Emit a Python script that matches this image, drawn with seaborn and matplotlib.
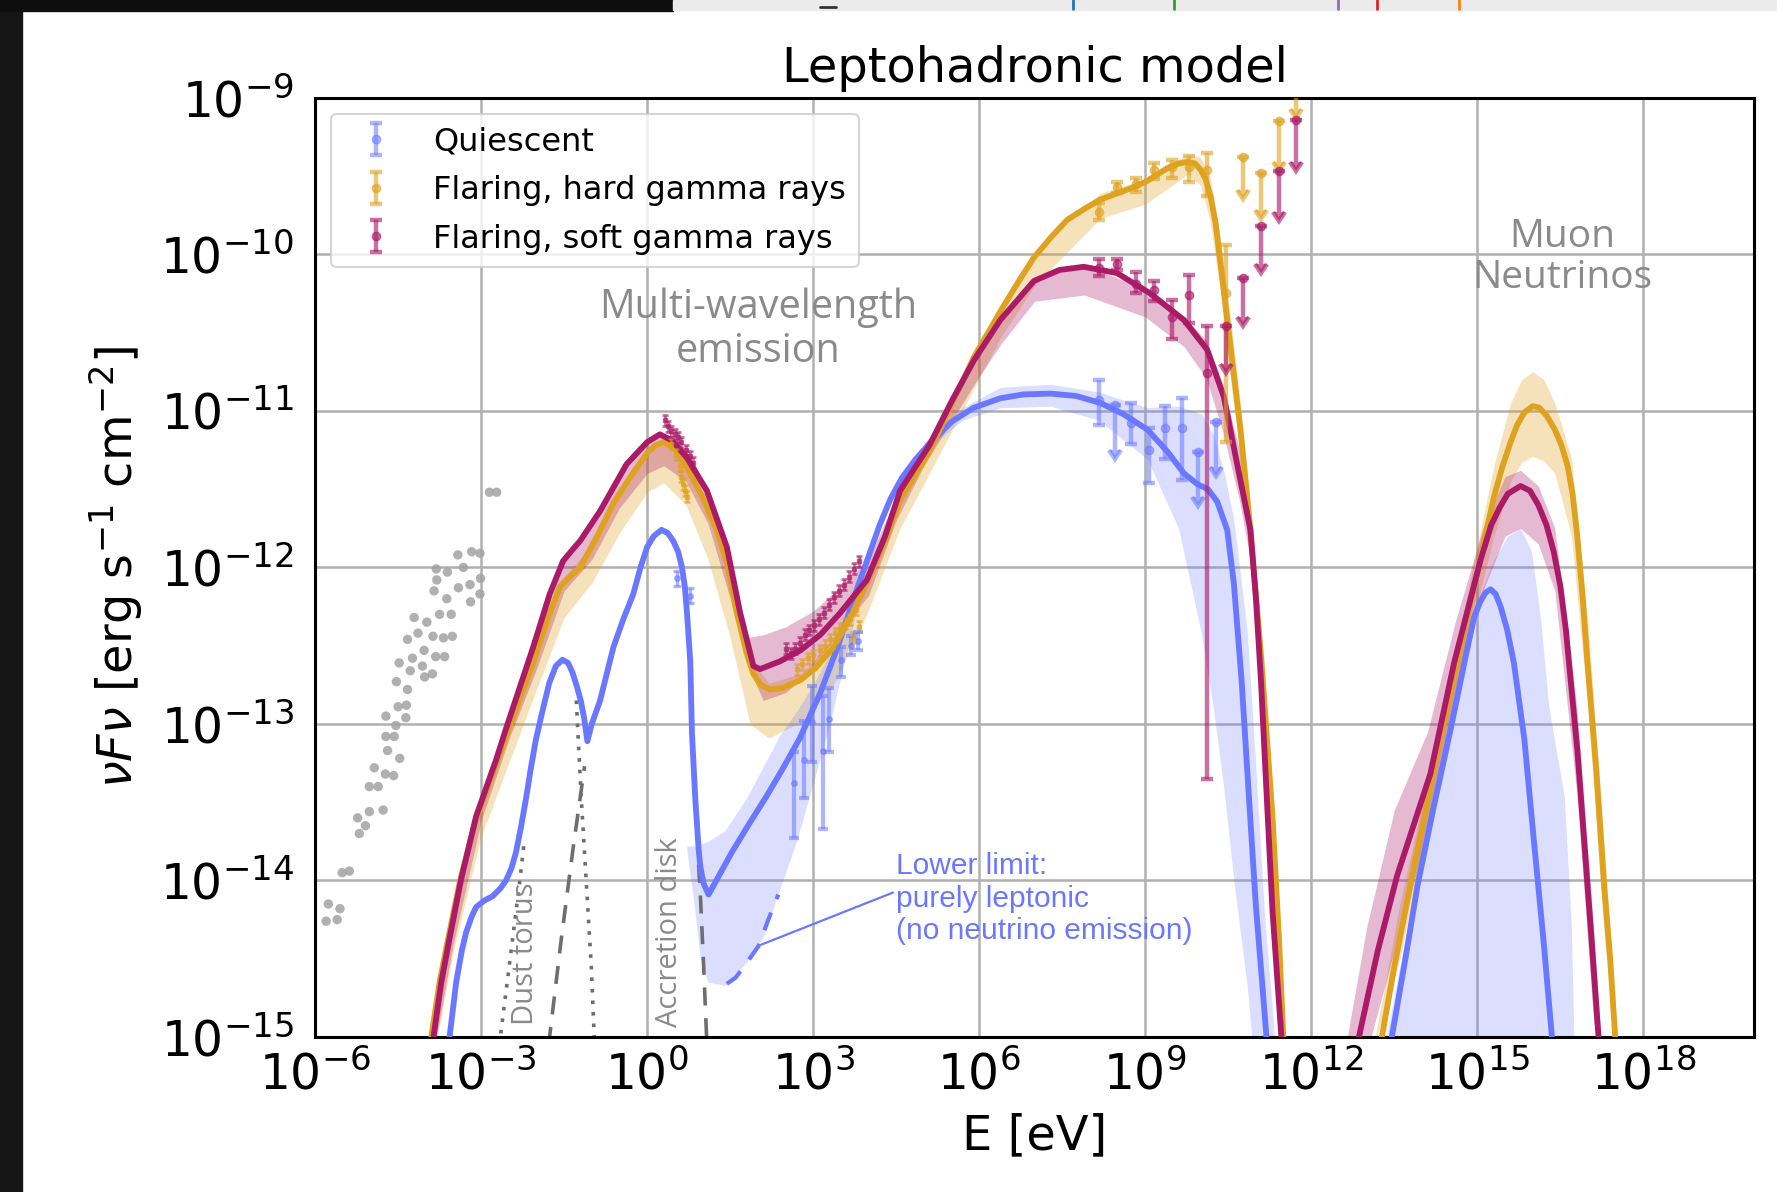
import numpy as np
import matplotlib
matplotlib.use("Agg")
import matplotlib.pyplot as plt
import seaborn as sns
from matplotlib.ticker import FixedLocator, FuncFormatter, LogLocator, NullLocator
from matplotlib.patches import Rectangle
from matplotlib.lines import Line2D

# ---------------------------------------------------------------- colours
C_Q = "#6a78ff"      # quiescent
C_H = "#dfa21f"      # flaring, hard gamma rays
C_S = "#ab1a67"      # flaring, soft gamma rays
C_TXT = "#8a8a8a"
C_COMP = "#6e6e6e"

# ---------------------------------------------------------------- model curves (log10 E[eV], log10 nuFnu)
q_logE = [-3.57, -3.45, -3.35, -3.27, -3.17, -3.09, -2.95, -2.79, -2.65, -2.55, -2.45, -2.37,
          -2.28, -2.19, -2.10, -2.01, -1.90, -1.77, -1.65, -1.53, -1.43, -1.35, -1.27, -1.20,
          -1.14, -1.08, -1.00, -0.92, -0.85, -0.73, -0.61, -0.43, -0.25, -0.12, 0.00, 0.12,
          0.26, 0.37, 0.47, 0.56, 0.63, 0.68, 0.72, 0.76, 0.78, 0.81, 0.87, 0.93, 0.96, 1.02,
          1.11, 1.25, 1.53, 1.84, 2.16, 2.46, 2.76, 3.13, 3.44, 3.74, 3.98, 4.20, 4.40, 4.60,
          4.85, 5.10, 5.50, 5.90, 6.38, 6.80, 7.29, 7.75, 8.19, 8.60, 9.04, 9.40, 9.70, 9.95, 10.13,
          10.30, 10.48, 10.60, 10.74, 10.87, 11.00, 11.10, 11.19, 11.22]
q_logF = [-15.00, -14.65, -14.45, -14.33, -14.23, -14.17, -14.13, -14.10, -14.05, -14.00, -13.92, -13.82,
          -13.66, -13.48, -13.28, -13.10, -12.93, -12.74, -12.63, -12.59, -12.61, -12.67, -12.76, -12.85,
          -12.96, -13.11, -13.00, -12.92, -12.85, -12.68, -12.51, -12.33, -12.17, -12.00, -11.87, -11.80,
          -11.76, -11.78, -11.83, -11.90, -12.00, -12.12, -12.29, -12.50, -12.61, -13.06, -13.48, -13.80, -13.91, -14.02,
          -14.09, -14.00, -13.82, -13.64, -13.46, -13.28, -13.09, -12.80, -12.51, -12.19, -11.95, -11.73, -11.56, -11.43,
          -11.31, -11.21, -11.07, -10.98, -10.92, -10.895, -10.89, -10.905, -10.95, -11.02, -11.12, -11.26, -11.40, -11.47, -11.50,
          -11.58, -11.76, -12.10, -12.72, -13.45, -14.17, -14.60, -15.00, -15.20]

h_logE = [-3.90, -3.75, -3.60, -3.38, -3.10, -2.75, -2.50, -2.07, -1.77, -1.57, -1.40, -1.21, -0.90,
          -0.61, -0.30, 0.00, 0.15, 0.30, 0.50, 0.72, 1.00, 1.26, 1.45, 1.62, 1.80, 1.92, 2.05, 2.22,
          2.45, 2.77, 3.05, 3.37, 3.70, 3.97, 4.30, 4.57, 5.10, 5.50, 5.90, 6.39, 6.70, 6.99, 7.30, 7.59,
          7.90, 8.19, 8.50, 8.80, 9.04, 9.40, 9.60, 9.76, 9.90, 10.00, 10.09, 10.18, 10.27, 10.36, 10.54,
          10.72, 10.90, 11.10, 11.30, 11.42, 11.50]
h_logF = [-15.00, -14.65, -14.38, -14.00, -13.62, -13.28, -13.03, -12.62, -12.30, -12.12, -12.06, -12.00, -11.80,
          -11.59, -11.42, -11.27, -11.22, -11.20, -11.24, -11.36, -11.55, -11.76, -11.98, -12.29, -12.55, -12.68, -12.75, -12.78,
          -12.77, -12.72, -12.64, -12.51, -12.30, -12.10, -11.83, -11.57, -11.26, -10.96, -10.66, -10.36, -10.18, -10.02, -9.89, -9.78,
          -9.71, -9.65, -9.61, -9.57, -9.53, -9.45, -9.42, -9.41, -9.42, -9.46, -9.52, -9.63, -9.80, -10.06, -10.59,
          -11.12, -11.76, -12.60, -13.60, -14.40, -15.05]

s_logE = [-3.86, -3.72, -3.57, -3.36, -3.09, -2.73, -2.54, -2.06, -1.76, -1.52, -1.38, -1.21, -0.85,
          -0.37, 0.00, 0.23, 0.45, 0.72, 1.08, 1.44, 1.68, 1.92, 2.04, 2.40, 2.77, 3.13, 3.49, 3.97,
          4.30, 4.57, 5.10, 5.50, 5.90, 6.38, 6.99, 7.45, 7.89, 8.49, 9.09, 9.70, 10.12, 10.42, 10.66,
          10.90, 11.00, 11.09, 11.20, 11.30, 11.40, 11.47]
s_logF = [-15.00, -14.65, -14.37, -13.99, -13.59, -13.23, -13.02, -12.51, -12.17, -11.96, -11.90, -11.83, -11.64,
          -11.34, -11.20, -11.15, -11.19, -11.30, -11.51, -11.87, -12.29, -12.63, -12.65, -12.60, -12.53, -12.43, -12.29, -12.08,
          -11.80, -11.51, -11.22, -10.94, -10.68, -10.42, -10.17, -10.10, -10.08, -10.12, -10.25, -10.42, -10.61, -10.91, -11.34,
          -11.76, -12.20, -12.72, -13.50, -14.20, -14.70, -15.05]

# neutrino bumps
qn_logE = [13.43, 13.70, 13.92, 14.20, 14.52, 14.80, 14.94, 15.05, 15.15, 15.24, 15.33, 15.42, 15.54, 15.66,
           15.85, 16.02, 16.20, 16.36]
qn_logF = [-15.05, -14.50, -14.03, -13.55, -13.03, -12.55, -12.32, -12.22, -12.16, -12.14, -12.17, -12.25, -12.40, -12.61,
           -13.10, -13.74, -14.40, -15.05]
hn_logE = [13.25, 13.50, 13.79, 14.28, 14.82, 15.30, 15.45, 15.60, 15.72, 15.85, 16.00, 16.12, 16.25, 16.40,
           16.52, 16.63, 16.72, 16.80, 16.90, 16.99, 17.15, 17.29, 17.40, 17.50]
hn_logF = [-15.05, -14.55, -14.03, -13.18, -12.32, -11.55, -11.36, -11.20, -11.09, -11.01, -10.97, -10.98, -11.03, -11.12,
           -11.22, -11.35, -11.53, -11.78, -12.18, -12.61, -13.30, -14.03, -14.50, -15.05]
sn_logE = [12.83, 13.20, 13.55, 14.15, 14.58, 15.06, 15.25, 15.40, 15.55, 15.78, 15.95, 16.10, 16.25, 16.38,
           16.50, 16.60, 16.81, 17.05, 17.20]
sn_logF = [-15.05, -14.45, -13.97, -13.32, -12.61, -11.95, -11.73, -11.62, -11.53, -11.48, -11.51, -11.60, -11.73, -11.90,
           -12.12, -12.40, -13.18, -14.31, -15.05]

# ---------------------------------------------------------------- uncertainty bands
s_band_logE = [-3.86, -3.5, -3.0, -2.5, -2.0, -1.5, -1.0, -0.5, 0.0, 0.3, 0.7, 1.1, 1.5, 1.8, 2.1, 2.5,
               3.0, 3.5, 4.0, 4.5, 5.0, 6.0, 6.4, 7.0, 7.9, 9.0, 9.7, 10.1, 10.4, 10.7, 10.9, 11.1, 11.3, 11.5]
s_band_hi = [-14.90, -14.25, -13.50, -12.95, -12.45, -11.95, -11.71, -11.41, -11.20, -11.15, -11.29, -11.52, -11.97, -12.45,
             -12.43, -12.38, -12.28, -12.12, -11.95, -11.55, -11.25, -10.60, -10.40, -10.15, -10.07, -10.22, -10.40, -10.55,
             -10.83, -11.25, -11.67, -12.50, -13.90, -15.10]
s_band_lo = [-15.10, -14.40, -13.62, -13.10, -12.65, -12.15, -11.95, -11.62, -11.40, -11.35, -11.45, -11.72, -12.20, -12.62,
             -12.85, -12.80, -12.65, -12.40, -12.18, -11.70, -11.35, -10.78, -10.57, -10.30, -10.26, -10.40, -10.59, -10.79,
             -11.13, -11.57, -11.95, -12.90, -14.30, -15.30]

h_band_logE = [-3.9, -3.5, -3.0, -2.5, -2.0, -1.5, -1.0, -0.5, 0.0, 0.3, 0.7, 1.1, 1.5, 1.86, 2.2, 2.77, 3.0, 3.37,
               3.97, 4.57, 5.1, 6.39, 7.0, 8.19, 9.0, 9.76, 10.0, 10.18, 10.36, 10.54, 10.72, 10.9, 11.1, 11.3, 11.5]
h_band_hi = [-14.95, -14.20, -13.47, -13.00, -12.52, -12.06, -11.86, -11.51, -11.26, -11.19, -11.33, -11.60, -12.08, -12.58,
             -12.74, -12.68, -12.60, -12.45, -12.05, -11.52, -11.22, -10.32, -9.98, -9.61, -9.52, -9.36, -9.38, -9.52, -9.90,
             -10.40, -10.95, -11.60, -12.45, -13.45, -14.90]
h_band_lo = [-15.20, -14.45, -13.72, -13.25, -12.78, -12.32, -12.10, -11.78, -11.52, -11.46, -11.60, -11.95, -12.45, -13.00,
             -13.09, -12.99, -12.89, -12.75, -12.30, -11.75, -11.40, -10.53, -10.20, -9.77, -9.68, -9.49, -9.56, -9.80, -10.25,
             -10.80, -11.30, -11.95, -12.80, -13.80, -15.20]

q_gband_logE = [5.0, 5.7, 6.38, 7.29, 8.16, 9.04, 9.6, 10.02, 10.23, 10.43, 10.6, 10.84, 10.95, 11.15, 11.36]
q_gband_hi = [-11.20, -10.98, -10.85, -10.83, -10.88, -10.98, -10.97, -11.02, -11.15, -11.40, -11.70, -12.40, -13.00, -14.20, -15.10]
q_gband_lo = [-11.26, -11.06, -10.98, -10.97, -11.06, -11.31, -11.75, -12.43, -12.90, -13.44, -14.00, -14.67, -15.10, -15.10, -15.10]

q_dband_logE = [0.72, 0.84, 0.96, 1.10, 1.41, 1.80, 2.10, 2.40, 2.70, 3.00, 3.30, 3.60, 3.90]
q_dband_hi = [-13.78, -13.78, -13.77, -13.75, -13.68, -13.47, -13.27, -13.07, -12.92, -12.75, -12.55, -12.30, -12.02]
q_dband_lo = [-13.82, -14.12, -14.50, -14.65, -14.67, -14.52, -14.36, -14.05, -13.75, -13.38, -13.00, -12.55, -12.10]

qn_band_logE = [13.30, 13.73, 14.22, 14.80, 15.30, 15.55, 15.78, 15.98, 16.14, 16.29, 16.57, 16.70, 16.75]
qn_band_hi = [-15.10, -14.31, -13.18, -12.40, -11.95, -11.80, -11.75, -11.90, -12.32, -12.89, -13.46, -14.30, -15.10]
hn_band_logE = [13.1, 13.6, 14.2, 14.8, 15.3, 15.6, 15.8, 16.0, 16.2, 16.4, 16.7, 17.0, 17.3, 17.55]
hn_band_hi = [-15.10, -14.15, -13.20, -12.20, -11.35, -10.95, -10.80, -10.75, -10.80, -10.95, -11.30, -12.35, -13.80, -15.10]
hn_band_lo = [-15.10, -14.50, -13.50, -12.50, -11.80, -11.45, -11.33, -11.29, -11.32, -11.40, -11.80, -12.90, -14.40, -15.10]
sn_band_logE = [12.6, 13.0, 13.5, 14.1, 14.6, 15.1, 15.5, 15.78, 16.1, 16.4, 16.8, 17.1, 17.25]
sn_band_hi = [-15.10, -14.30, -13.55, -13.05, -12.35, -11.75, -11.42, -11.38, -11.48, -11.75, -12.90, -14.30, -15.10]
sn_band_lo = [-15.10, -15.10, -14.45, -13.70, -12.85, -12.15, -11.80, -11.75, -11.85, -12.15, -13.45, -14.90, -15.10]

# lower limit (purely leptonic)
lep_logE = [1.44, 1.60, 1.77, 2.01, 2.19, 2.37]
lep_logF = [-14.66, -14.62, -14.54, -14.42, -14.25, -14.09]

# thermal components
torus_rise_logE = [-2.67, -2.49, -2.31, -2.22]
torus_rise_logF = [-15.05, -14.54, -14.03, -13.75]
torus_fall_logE = [-1.28, -1.19, -1.10, -1.01, -0.95]
torus_fall_logF = [-12.85, -13.48, -14.01, -14.54, -15.05]
disk_rise_logE = [-1.78, -1.55, -1.34, -1.13]
disk_rise_logF = [-15.05, -14.37, -13.80, -13.27]
disk_fall_logE = [0.93, 0.96, 1.02, 1.08]
disk_fall_logF = [-13.90, -14.08, -14.54, -15.05]

# ---------------------------------------------------------------- archival data (grey)
arch_logE = [-2.85, -2.72, -3.42, -3.17, -3.02, -3.81, -3.61, -3.32, -3.80, -3.01, -3.85, -3.41, -3.20, -3.02,
             -3.62, -3.19, -4.21, -3.98, -3.75, -3.54, -4.33, -4.14, -3.87, -3.68, -3.52, -4.03, -4.24, -3.82,
             -3.66, -4.48, -4.28, -4.06, -4.02, -3.88, -4.53, -4.33, -4.50, -4.35, -4.72, -4.36, -4.54, -4.72,
             -4.57, -4.69, -4.47, -4.93, -4.73, -4.58, -5.02, -4.86, -5.23, -5.09, -5.02, -4.77, -5.20, -5.51,
             -5.38, -5.76, -5.55, -5.80, -5.60]
arch_logF = [-11.52, -11.52, -11.92, -11.90, -11.91, -12.01, -12.03, -12.00, -12.08, -12.07, -12.15, -12.13, -12.11, -12.17,
             -12.20, -12.22, -12.32, -12.35, -12.30, -12.30, -12.46, -12.42, -12.44, -12.45, -12.44, -12.53, -12.58, -12.57,
             -12.57, -12.61, -12.66, -12.63, -12.70, -12.68, -12.73, -12.78, -12.89, -12.88, -12.95, -12.96, -13.01, -13.08,
             -13.08, -13.17, -13.22, -13.28, -13.32, -13.33, -13.40, -13.40, -13.60, -13.65, -13.56, -13.55, -13.70, -13.95,
             -13.94, -14.15, -14.18, -14.26, -14.25]

# ---------------------------------------------------------------- measured fluxes
# quiescent
q_opt_logE = [0.535, 0.775]
q_opt_logF = [-12.07, -12.18]
q_opt_lo = [-12.12, -12.23]
q_opt_hi = [-12.02, -12.13]
q_x_logE = [2.65, 2.83, 2.98, 3.18, 3.28, 3.50, 3.68, 3.81]
q_x_logF = [-13.38, -13.23, -12.99, -13.17, -12.97, -12.59, -12.50, -12.47]
q_x_lo = [-13.73, -13.47, -13.24, -13.67, -13.18, -12.70, -12.56, -12.53]
q_x_hi = [-13.18, -12.98, -12.76, -12.82, -12.77, -12.51, -12.44, -12.41]
q_g_logE = [8.16, 8.75, 9.07, 9.35, 9.66]
q_g_logF = [-10.93, -11.08, -11.25, -11.11, -11.11]
q_g_lo = [-11.09, -11.21, -11.46, -11.31, -11.44]
q_g_hi = [-10.80, -10.95, -11.11, -10.97, -10.92]
q_ul_logE = [8.46, 9.96, 10.27]
q_ul_top = [-10.96, -11.26, -11.07]
q_ul_tip = [-11.25, -11.55, -11.36]

# flaring, hard
h_opt_logE = [0.44, 0.53, 0.59, 0.62, 0.65, 0.68, 0.72]
h_opt_logF = [-11.21, -11.28, -11.35, -11.42, -11.47, -11.51, -11.55]
h_x_logE = [2.70, 2.80, 2.90, 3.00, 3.12, 3.22, 3.30, 3.40, 3.48, 3.57, 3.66, 3.72, 3.78, 3.82]
h_x_logF = [-12.65, -12.62, -12.58, -12.56, -12.53, -12.50, -12.46, -12.42, -12.39, -12.36, -12.33, -12.45, -12.27, -12.38]
h_g_logE = [8.16, 8.49, 8.83, 9.15, 9.48, 9.79, 10.12, 10.45]
h_g_logF = [-9.73, -9.57, -9.55, -9.46, -9.44, -9.44, -9.46, -10.25]
h_g_lo = [-9.78, -9.61, -9.60, -9.52, -9.51, -9.54, -9.63, -11.20]
h_g_hi = [-9.67, -9.54, -9.51, -9.42, -9.40, -9.37, -9.35, -9.94]
h_ul_logE = [10.77, 11.10, 11.42, 11.73]
h_ul_top = [-9.38, -9.48, -9.15, -8.85]
h_ul_tip = [-9.59, -9.72, -9.41, -9.07]

# flaring, soft
s_opt_logE = [0.32, 0.38, 0.44, 0.50, 0.56, 0.62, 0.71, 0.77, 0.83]
s_opt_logF = [-11.06, -11.10, -11.13, -11.15, -11.17, -11.20, -11.25, -11.29, -11.33]
s_x_logE = [2.50, 2.60, 2.68, 2.76, 2.85, 2.93, 3.02, 3.10, 3.19, 3.28, 3.37, 3.46, 3.55, 3.64, 3.73, 3.82]
s_x_logF = [-12.52, -12.55, -12.52, -12.48, -12.43, -12.40, -12.37, -12.33, -12.29, -12.24, -12.19, -12.15, -12.11,
            -12.06, -12.01, -11.96]
s_g_logE = [8.16, 8.49, 8.83, 9.15, 9.48, 9.79, 10.12]
s_g_logF = [-10.09, -10.06, -10.19, -10.23, -10.40, -10.26, -10.76]
s_g_lo = [-10.14, -10.10, -10.25, -10.30, -10.54, -10.44, -13.35]
s_g_hi = [-10.03, -10.03, -10.11, -10.17, -10.29, -10.13, -10.46]
s_ul_logE = [10.45, 10.77, 11.10, 11.42, 11.73]
s_ul_top = [-10.46, -10.15, -9.82, -9.47, -9.14]
s_ul_tip = [-10.70, -10.40, -10.06, -9.73, -9.41]

legend_labels = ["Quiescent", "Flaring, hard gamma rays", "Flaring, soft gamma rays"]
x_tick_exps = list(range(-6, 19, 3))
y_tick_exps = list(range(-15, -8))

# ---------------------------------------------------------------- style
sns.set_style("white")
plt.rcParams["font.family"] = ["DejaVu Sans"]
plt.rcParams["mathtext.fontset"] = "dejavusans"
plt.rcParams["text.color"] = "black"
plt.rcParams["axes.labelcolor"] = "black"
plt.rcParams["xtick.color"] = "black"
plt.rcParams["ytick.color"] = "black"

fig = plt.figure(figsize=(17.77, 11.92), dpi=100)
ax = fig.add_axes([0.1773, 0.130, 0.8098, 0.788])
ax.set_xscale("log")
ax.set_yscale("log")
ax.set_xlim(1e-6, 1e20)
ax.set_ylim(1e-15, 1e-9)


def p(v):
    return 10.0 ** np.asarray(v, dtype=float)


def band(logE, lo, hi, color, alpha):
    ax.fill_between(p(logE), p(lo), p(hi), color=color, alpha=alpha, lw=0, zorder=1.5)


def curve(logE, logF, color, lw=4.2, z=3, **kw):
    sns.lineplot(x=p(logE), y=p(logF), ax=ax, color=color, lw=lw, sort=False,
                 estimator=None, legend=False, zorder=z, **kw)


# bands
band(h_band_logE, h_band_lo, h_band_hi, C_H, 0.30)
band(s_band_logE, s_band_lo, s_band_hi, C_S, 0.30)
band(q_gband_logE, q_gband_lo, q_gband_hi, C_Q, 0.24)
band(q_dband_logE, q_dband_lo, q_dband_hi, C_Q, 0.24)
band(qn_band_logE, [-15.1] * len(qn_band_logE), qn_band_hi, C_Q, 0.24)
band(hn_band_logE, hn_band_lo, hn_band_hi, C_H, 0.30)
band(sn_band_logE, sn_band_lo, sn_band_hi, C_S, 0.30)

# thermal components
curve(torus_rise_logE, torus_rise_logF, C_COMP, lw=2.6, z=2, linestyle=(0, (1, 2.2)))
curve(torus_fall_logE, torus_fall_logF, C_COMP, lw=2.6, z=2, linestyle=(0, (1, 2.2)))
curve(disk_rise_logE, disk_rise_logF, C_COMP, lw=2.6, z=2, linestyle=(0, (5, 3.5)))
curve(disk_fall_logE, disk_fall_logF, C_COMP, lw=2.6, z=2, linestyle=(0, (5, 3.5)))

# archival points
sns.scatterplot(x=p(arch_logE), y=p(arch_logF), ax=ax, color="#a3a3a3", s=46, edgecolor="none",
                alpha=0.85, zorder=2, legend=False)

# model curves
curve(q_logE, q_logF, C_Q)
curve(qn_logE, qn_logF, C_Q)
curve(h_logE, h_logF, C_H)
curve(hn_logE, hn_logF, C_H)
curve(s_logE, s_logF, C_S)
curve(sn_logE, sn_logF, C_S)
curve(lep_logE, lep_logF, C_Q, lw=3.0, linestyle=(0, (4.5, 3.5)))


def points(logE, logF, lo, hi, color, alpha, ms=6, cap=4, lw=3.2, label=None):
    F = p(logF)
    err = [F - p(lo), p(hi) - F]
    return ax.errorbar(p(logE), F, yerr=err, fmt="o", color=color, alpha=alpha, ms=ms,
                       capsize=cap, elinewidth=lw, capthick=lw, zorder=4, label=label)


def small(logE, logF, color, alpha):
    F = p(logF)
    err = [F - p(np.asarray(logF) - 0.035), p(np.asarray(logF) + 0.035) - F]
    ax.errorbar(p(logE), F, yerr=err, fmt="s", color=color, alpha=alpha, ms=3.5,
                capsize=2.5, elinewidth=2, capthick=2, zorder=4)


def limits(logE, top, tip, color, alpha):
    T = p(top)
    ax.errorbar(p(logE), T, yerr=[T - p(tip), np.zeros(len(T))], uplims=True, fmt="o",
                color=color, alpha=alpha, ms=6, capsize=4.5, elinewidth=3.2, capthick=3.2, zorder=4)


A_Q, A_H, A_S = 0.55, 0.6, 0.62
small(h_opt_logE, h_opt_logF, C_H, A_H)
small(s_opt_logE, s_opt_logF, C_S, A_S)
small(h_x_logE, h_x_logF, C_H, A_H)
small(s_x_logE, s_x_logF, C_S, A_S)
points(q_opt_logE, q_opt_logF, q_opt_lo, q_opt_hi, C_Q, A_Q, ms=4, cap=3, lw=2.4)
points(q_x_logE, q_x_logF, q_x_lo, q_x_hi, C_Q, A_Q, ms=4, cap=3.5, lw=3)
hq = points(q_g_logE, q_g_logF, q_g_lo, q_g_hi, C_Q, A_Q, label=legend_labels[0])
hh = points(h_g_logE, h_g_logF, h_g_lo, h_g_hi, C_H, A_H, label=legend_labels[1])
hs = points(s_g_logE, s_g_logF, s_g_lo, s_g_hi, C_S, A_S, label=legend_labels[2])
limits(q_ul_logE, q_ul_top, q_ul_tip, C_Q, A_Q)
limits(h_ul_logE, h_ul_top, h_ul_tip, C_H, A_H)
limits(s_ul_logE, s_ul_top, s_ul_tip, C_S, A_S)

# ---------------------------------------------------------------- axes cosmetics
ax.xaxis.set_major_locator(FixedLocator(p(x_tick_exps)))
ax.xaxis.set_minor_locator(NullLocator())
ax.yaxis.set_major_locator(FixedLocator(p(y_tick_exps)))
ax.yaxis.set_minor_locator(LogLocator(base=10, subs=np.arange(2, 10)))
fmt = FuncFormatter(lambda v, pos: r"$10^{%d}$" % int(round(np.log10(v))))
ax.xaxis.set_major_formatter(fmt)
ax.yaxis.set_major_formatter(fmt)
ax.yaxis.set_minor_formatter(FuncFormatter(lambda v, pos: ""))
ax.tick_params(axis="both", which="major", labelsize=35, length=7, width=2, direction="out",
               colors="black", labelcolor="black")
ax.tick_params(axis="x", which="major", pad=3)
ax.tick_params(axis="y", which="major", pad=8)
ax.tick_params(axis="y", which="minor", length=4, width=1.5, colors="black")
ax.grid(True, which="major", color="#b0b0b0", lw=1.8)
ax.set_axisbelow(True)
for sp in ax.spines.values():
    sp.set_linewidth(2.2)
    sp.set_color("black")

ax.set_title("Leptohadronic model", fontsize=34.5, pad=11, color="black")
ax.set_xlabel("E [eV]", fontsize=34.5, color="black")
ax.set_ylabel(r"$\nu F\nu$ [erg s$^{-1}$ cm$^{-2}$]", fontsize=34.5, color="black")
ax.xaxis.set_label_coords(0.5, -0.080)
ax.yaxis.set_label_coords(-0.118, 0.5)

leg = ax.legend(handles=[hq, hh, hs], labels=legend_labels, loc="upper left", fontsize=23,
                framealpha=0.8, edgecolor="#cccccc", fancybox=True, labelspacing=0.55)
leg.get_frame().set_linewidth(1.5)
for t in leg.get_texts():
    t.set_color("black")

# ---------------------------------------------------------------- annotations
ax.text(p(2.01), p(-10.48), "Multi-wavelength\nemission", fontsize=28.5, family=["Open Sans", "DejaVu Sans"],
        color=C_TXT, ha="center", va="center", linespacing=1.12)
ax.text(p(16.54), p(-10.02), "Muon\nNeutrinos", fontsize=28, family=["Open Sans", "DejaVu Sans"],
        color=C_TXT, ha="center", va="center", linespacing=1.12)
ax.text(p(-2.19), p(-14.47), "Dust torus", fontsize=21, family=["Open Sans", "DejaVu Sans"],
        color=C_TXT, ha="center", va="center", rotation=90)
ax.text(p(0.41), p(-14.33), "Accretion disk", fontsize=21, family=["Open Sans", "DejaVu Sans"],
        color=C_TXT, ha="center", va="center", rotation=90)
ax.annotate("Lower limit:\npurely leptonic\n(no neutrino emission)", xy=(p(2.06), p(-14.41)),
            xytext=(p(4.5), p(-13.82)), fontsize=21.5, family=["Liberation Sans", "DejaVu Sans"],
            color=C_Q, ha="left", va="top", linespacing=1.2,
            arrowprops=dict(arrowstyle="-", color=C_Q, lw=1.6, shrinkA=0, shrinkB=0,
                            relpos=(0.0, 0.58)))

# ---------------------------------------------------------------- surrounding window frame
W, H = 1777.0, 1192.0
fig.patches.append(Rectangle((0, 0), 22 / W, 1, transform=fig.transFigure, color="#151515", zorder=10))
fig.patches.append(Rectangle((0, 1 - 11 / H), 673 / W, 11 / H, transform=fig.transFigure,
                             color="#0e0e0e", zorder=10))
fig.patches.append(Rectangle((673 / W, 1 - 10 / H), 1 - 673 / W, 10 / H, transform=fig.transFigure,
                             color="#ebebeb", zorder=10))
for xp, c in [(1073, "#1f77b4"), (1174, "#2ca02c"), (1338, "#9467bd"), (1377, "#d62728"), (1459, "#ff7f0e")]:
    fig.lines.append(Line2D([xp / W, xp / W], [1 - 9 / H, 1], transform=fig.transFigure, color=c, lw=2, zorder=11))
fig.lines.append(Line2D([820 / W, 836 / W], [1 - 7 / H, 1 - 7 / H], transform=fig.transFigure,
                        color="#333333", lw=2, zorder=11))

fig.savefig("out.png", dpi=100, facecolor="white")
